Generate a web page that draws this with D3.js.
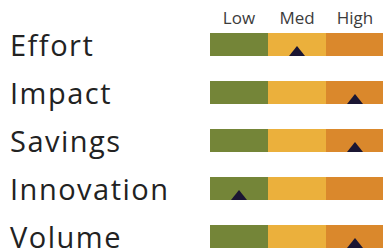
<!DOCTYPE html>
<html>
<head>
<meta charset="utf-8">
<style>
  body { margin: 0; background: #fff; }
  svg { display: block; }
</style>
</head>
<body>
<svg id="chart" width="383" height="251"></svg>
<script src="https://cdn.jsdelivr.net/npm/d3@7"></script>
<script>
// data
var categories = ["Effort", "Impact", "Savings", "Innovation", "Volume"];
var levels = ["Low", "Med", "High"];
var ratings = ["Med", "High", "High", "Low", "High"];
var levelColors = ["#748538", "#EBB03C", "#DA882C"];

var svg = d3.select("#chart");

var x = d3.scaleBand().domain(levels).range([210, 384]);
var y = d3.scaleBand().domain(categories).range([33, 248]).paddingInner(25 / 48).paddingOuter(0);
var color = d3.scaleOrdinal().domain(levels).range(levelColors);

// header labels
svg.selectAll("text.head")
	.data(levels)
	.enter().append("text")
	.attr("class", "head")
	.attr("x", function(d){ return x(d) + x.bandwidth() / 2; })
	.attr("y", 24)
	.attr("text-anchor", "middle")
	.style("font-family", "'Open Sans', sans-serif")
	.style("font-size", "17px")
	.style("fill", "#3c3c3c")
	.text(function(d){ return d; });

var rows = svg.selectAll("g.row")
	.data(categories)
	.enter().append("g")
	.attr("class", "row")
	.attr("transform", function(d){ return "translate(0," + y(d) + ")"; });

// row labels
rows.append("text")
	.attr("x", 10)
	.attr("y", y.bandwidth())
	.style("font-family", "'Open Sans', sans-serif")
	.style("font-size", "29px")
	.style("letter-spacing", "1.5px")
	.style("fill", "#222")
	.text(function(d){ return d; });

// segments
rows.selectAll("rect")
	.data(levels)
	.enter().append("rect")
	.attr("x", function(d){ return x(d); })
	.attr("y", 0)
	.attr("width", x.bandwidth())
	.attr("height", y.bandwidth())
	.style("fill", function(d){ return color(d); });

// markers
rows.append("path")
	.attr("d", function(d, i){
		var cx = x(ratings[i]) + x.bandwidth() / 2, b = y.bandwidth();
		return "M" + (cx - 8) + "," + b + "L" + cx + "," + (b - 10) + "L" + (cx + 8) + "," + b + "Z";
	})
	.style("fill", "#1B1633");
</script>
</body>
</html>
